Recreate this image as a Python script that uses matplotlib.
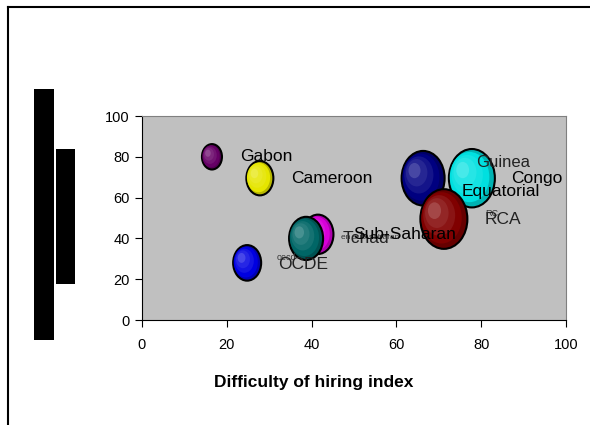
import matplotlib
matplotlib.use("Agg")
import matplotlib.pyplot as plt
from matplotlib.patches import Ellipse, Rectangle
from matplotlib.lines import Line2D
from matplotlib.colors import to_rgb

plt.rcParams['font.family'] = ['Liberation Sans', 'DejaVu Sans']

# bubble data: difficulty of hiring (x), second index (y), bubble size
names = ['Gabon', 'Cameroon', 'OCDE', 'Tchad', 'Sub-Saharan', 'Guinea', 'Equatorial Guinea', 'RCA']
hiring = [16.5, 27.8, 24.8, 41.5, 38.7, 66.3, 77.8, 71.2]
index2 = [80, 69.5, 28, 42, 40, 69.5, 69.5, 49.5]
sizes = [20, 27, 28, 31, 34, 43, 46, 47]
colors = ['#660066', '#E5E500', '#0000E0', '#D800D8', '#006666', '#000080', '#00E0E0', '#800000']

fig = plt.figure(figsize=(5.9, 4.25), dpi=100)
ax = fig.add_axes([142 / 590, 105 / 425, 424 / 590, 204 / 425])
ax.set_facecolor('#C0C0C0')
ax.set_xlim(0, 100)
ax.set_ylim(0, 100)
ax.set_xticks(range(0, 101, 20))
ax.set_yticks(range(0, 101, 20))
ax.tick_params(direction='out', length=5, labelsize=10.5, pad=8)
ax.tick_params(axis='y', pad=4)
for s in ['top', 'right']:
    ax.spines[s].set_color('#808080')
for s in ['left', 'bottom']:
    ax.spines[s].set_color('black')
ax.set_xlabel('Difficulty of hiring index', fontsize=12.5, fontweight='bold', labelpad=12)
ax.xaxis.set_label_coords(0.405, -0.27)

# pixel -> data conversion so the bubbles come out as the slightly tall ellipses
px_x = 424 / 100
px_y = 204 / 100


def shade(c, t):
    c = to_rgb(c)
    if t < 0:
        return tuple(a * (1 + t) for a in c)
    return tuple(a + (1 - a) * t for a in c)


for x, y, s, c in zip(hiring, index2, sizes, colors):
    w = s / px_x
    h = s * 1.27 / px_y
    ax.add_patch(Ellipse((x, y), w, h, facecolor=shade(c, -0.2), edgecolor='black', lw=1.5, zorder=3))
    # inner shading rings drifting towards the upper left
    for f, t, ox, oy in [(0.86, 0.0, -0.05, 0.02), (0.68, 0.08, -0.1, 0.06), (0.5, 0.15, -0.15, 0.1)]:
        ax.add_patch(Ellipse((x + ox * w, y + oy * h), w * f, h * f,
                             facecolor=shade(c, t), edgecolor='none', zorder=3))
    ax.add_patch(Ellipse((x - 0.2 * w, y + 0.14 * h), w * 0.28, h * 0.28,
                         facecolor=shade(c, 0.28), edgecolor='none', zorder=3))

# labels
ax.annotate('Gabon', (hiring[0], index2[0]), xytext=(20, 0), textcoords='offset points',
            fontsize=12.5, va='center', zorder=5)
ax.annotate('Cameroon', (hiring[1], index2[1]), xytext=(22.5, 0), textcoords='offset points',
            fontsize=12.5, va='center', zorder=5)
ax.annotate('oecd', (hiring[2], index2[2]), xytext=(21, 4), textcoords='offset points',
            fontsize=6.5, va='center', color='#333333', zorder=5)
ax.annotate('OCDE', (hiring[2], index2[2]), xytext=(22, -1), textcoords='offset points',
            fontsize=12.5, va='center', color='#222222', zorder=5)
ax.annotate('Tchad', (hiring[3], index2[3]), xytext=(17.5, -3), textcoords='offset points',
            fontsize=12.5, va='center', color='#222222', zorder=5)
ax.annotate('en sub-saharan', (hiring[4], index2[4]), xytext=(25, 1), textcoords='offset points',
            fontsize=6, va='center', color='#333333', zorder=5)
ax.annotate('Sub-Saharan', (hiring[4], index2[4]), xytext=(34, 3), textcoords='offset points',
            fontsize=12.5, va='center', zorder=5)
ax.annotate('Guinea', (hiring[6], index2[6]), xytext=(3, 11), textcoords='offset points',
            fontsize=12, va='center', color='#222222', zorder=5)
ax.annotate('Congo', (hiring[6], index2[6]), xytext=(28.5, 0), textcoords='offset points',
            fontsize=12.5, va='center', zorder=5)
ax.annotate('Equatorial', (hiring[6], index2[6]), xytext=(-7.5, -9.5), textcoords='offset points',
            fontsize=12.5, va='center', zorder=5)
ax.annotate('RC', (hiring[7], index2[7]), xytext=(30, 4), textcoords='offset points',
            fontsize=6.5, va='center', color='#333333', zorder=5)
ax.annotate('RCA', (hiring[7], index2[7]), xytext=(29.5, -0.5), textcoords='offset points',
            fontsize=12.5, va='center', color='#222222', zorder=5)

# outer frame lines and the two black blocks on the left
fig.add_artist(Line2D([8 / 590, 1], [1 - 7 / 425] * 2, color='black', lw=1.5))
fig.add_artist(Line2D([8 / 590] * 2, [0, 1 - 7 / 425], color='black', lw=1.5))
fig.add_artist(Rectangle((34 / 590, 1 - 340 / 425), 20 / 590, 251 / 425, color='black', lw=0))
fig.add_artist(Rectangle((55.5 / 590, 1 - 284 / 425), 19.5 / 590, 135 / 425, color='black', lw=0))

fig.savefig('out.png', dpi=100)
